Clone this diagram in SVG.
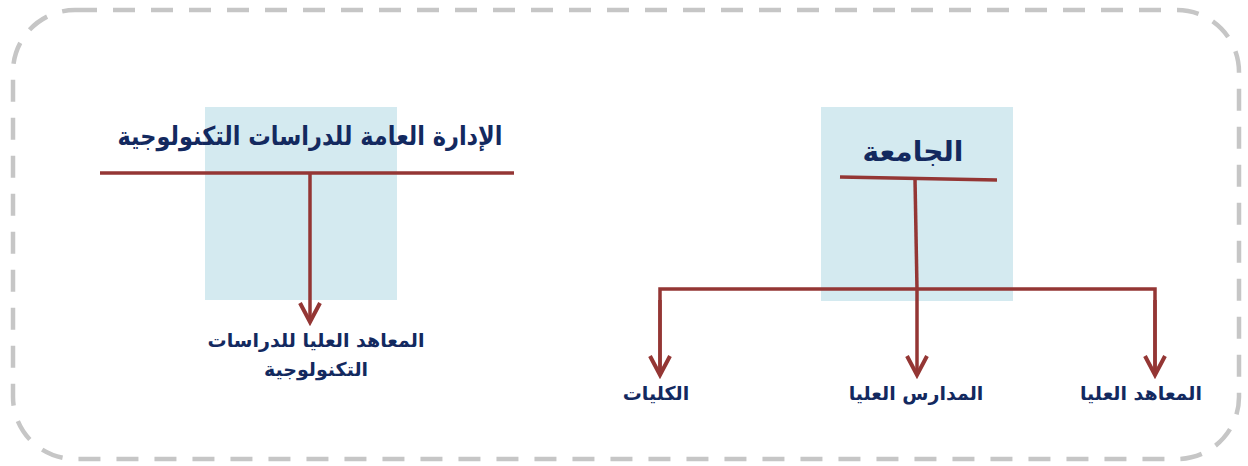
<svg xmlns="http://www.w3.org/2000/svg" width="1248" height="466" viewBox="0 0 1248 466">
<style>
.bg{fill:#d4eaf0;stroke:none}
.frame{fill:none;stroke:#c6c6c6;stroke-width:4.5;stroke-dasharray:22 16}
.ln{fill:none;stroke:#943634;stroke-width:3.5}
.arr{fill:none;stroke:#943634;stroke-width:3.5;marker-end:url(#v)}
.t{font-family:"DejaVu Sans",sans-serif;font-weight:bold;fill:#13295f;text-anchor:middle}
.big{font-size:28px}
.sm{font-size:19px}
</style>
<defs>
<marker id="v" markerUnits="userSpaceOnUse" viewBox="-24 -14 28 28" markerWidth="28" markerHeight="28" refX="0" refY="0" orient="auto">
<path d="M-19,-10 L0,0 L-19,10" fill="none" stroke="#943634" stroke-width="4"/>
</marker>
</defs>
<rect class="frame" x="13" y="10" width="1226" height="449" rx="62" ry="62"/>
<g id="node-admin">
<rect class="bg" x="205" y="107" width="192" height="193"/>
<text class="t" style="font-size:26px" x="310" y="145" direction="rtl" textLength="385" lengthAdjust="spacingAndGlyphs">الإدارة العامة للدراسات التكنولوجية</text>
</g>
<g id="node-univ">
<rect class="bg" x="821" y="107" width="192" height="194"/>
<text class="t big" x="913" y="161" direction="rtl">الجامعة</text>
</g>
<g id="node-tech-inst">
<text class="t sm" x="316" y="347" direction="rtl">المعاهد العليا للدراسات</text>
<text class="t sm" x="316" y="376" direction="rtl">التكنولوجية</text>
</g>
<g id="node-colleges">
<text class="t sm" x="656" y="400" direction="rtl">الكليات</text>
</g>
<g id="node-schools">
<text class="t sm" x="916" y="400" direction="rtl">المدارس العليا</text>
</g>
<g id="node-institutes">
<text class="t sm" x="1141" y="400" direction="rtl">المعاهد العليا</text>
</g>
<g id="connectors">
<line class="ln" x1="100" y1="173" x2="514" y2="173"/>
<line class="arr" x1="310" y1="173" x2="310" y2="322"/>
<line class="ln" x1="840" y1="177" x2="997" y2="180"/>
<line class="ln" x1="915" y1="179" x2="917" y2="289"/>
<polyline class="ln" points="660,375 660,289 1155,289 1155,375"/>
<line class="arr" x1="660" y1="300" x2="660" y2="375"/>
<line class="arr" x1="917" y1="289" x2="917" y2="375"/>
<line class="arr" x1="1155" y1="300" x2="1155" y2="375"/>
</g>
</svg>
